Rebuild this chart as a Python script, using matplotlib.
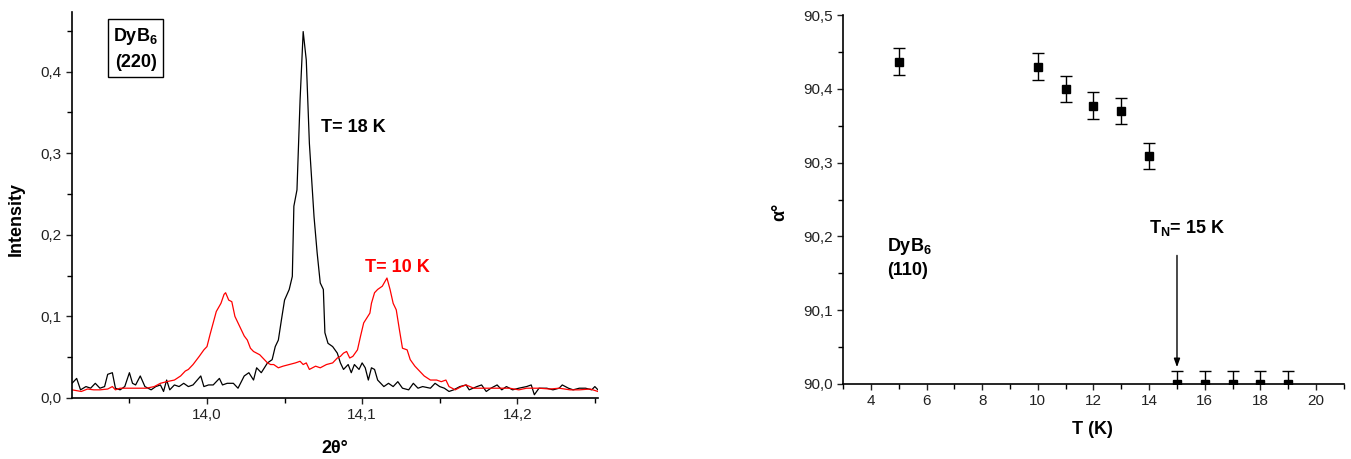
import matplotlib
matplotlib.use("Agg")
import matplotlib.pyplot as plt
from matplotlib.ticker import MultipleLocator, FuncFormatter

plt.rcParams['font.family'] = ['Liberation Sans', 'DejaVu Sans']
plt.rcParams['mathtext.fontset'] = 'custom'
plt.rcParams['mathtext.rm'] = 'Liberation Sans'
plt.rcParams['mathtext.bf'] = 'Liberation Sans:bold'

# ---- Left panel data: 2theta scans ----
tt_18K = [13.913, 13.916, 13.9185, 13.922, 13.925, 13.928, 13.931, 13.934, 13.936, 13.939,
          13.941, 13.944, 13.947, 13.950, 13.952, 13.954, 13.957, 13.960, 13.964, 13.967,
          13.970, 13.972, 13.974, 13.976, 13.979, 13.982, 13.985, 13.988, 13.991, 13.996,
          13.998, 14.001, 14.004, 14.008, 14.010, 14.013, 14.017, 14.020, 14.024, 14.027,
          14.030, 14.032, 14.035, 14.039, 14.042, 14.044, 14.046, 14.048, 14.050, 14.053,
          14.055, 14.056, 14.058, 14.060, 14.062, 14.064, 14.066, 14.069, 14.071, 14.073,
          14.075, 14.076, 14.078, 14.081, 14.084, 14.086, 14.088, 14.091, 14.093, 14.095,
          14.098, 14.100, 14.102, 14.104, 14.106, 14.108, 14.110, 14.114, 14.117, 14.120,
          14.123, 14.126, 14.130, 14.133, 14.136, 14.139, 14.144, 14.147, 14.150, 14.153,
          14.156, 14.159, 14.163, 14.167, 14.169, 14.174, 14.177, 14.180, 14.183, 14.187,
          14.190, 14.193, 14.197, 14.201, 14.206, 14.209, 14.211, 14.214, 14.219, 14.223,
          14.227, 14.229, 14.233, 14.236, 14.240, 14.244, 14.248, 14.250, 14.252]
int_18K = [0.018, 0.024, 0.010, 0.014, 0.012, 0.018, 0.012, 0.014, 0.029, 0.031,
           0.012, 0.010, 0.014, 0.031, 0.018, 0.016, 0.027, 0.014, 0.010, 0.014,
           0.016, 0.008, 0.022, 0.010, 0.016, 0.014, 0.018, 0.014, 0.016, 0.027,
           0.014, 0.016, 0.016, 0.024, 0.016, 0.018, 0.018, 0.012, 0.027, 0.031,
           0.022, 0.037, 0.031, 0.043, 0.047, 0.063, 0.071, 0.096, 0.120, 0.133,
           0.149, 0.235, 0.255, 0.365, 0.449, 0.414, 0.312, 0.222, 0.178, 0.141,
           0.133, 0.080, 0.067, 0.063, 0.055, 0.043, 0.035, 0.041, 0.031, 0.041,
           0.035, 0.043, 0.037, 0.022, 0.037, 0.035, 0.022, 0.014, 0.018, 0.014,
           0.020, 0.012, 0.010, 0.018, 0.012, 0.014, 0.012, 0.018, 0.014, 0.012,
           0.008, 0.010, 0.014, 0.016, 0.010, 0.014, 0.016, 0.008, 0.012, 0.016,
           0.010, 0.014, 0.010, 0.012, 0.014, 0.016, 0.004, 0.012, 0.012, 0.010,
           0.012, 0.016, 0.012, 0.010, 0.012, 0.012, 0.010, 0.014, 0.010]

tt_10K = [13.913, 13.919, 13.923, 13.927, 13.931, 13.936, 13.939, 13.941, 13.944, 13.949,
          13.953, 13.957, 13.961, 13.966, 13.970, 13.974, 13.979, 13.983, 13.986, 13.988,
          13.991, 13.995, 13.998, 14.000, 14.002, 14.004, 14.006, 14.009, 14.011, 14.012,
          14.014, 14.016, 14.018, 14.020, 14.024, 14.026, 14.028, 14.030, 14.034, 14.036,
          14.039, 14.041, 14.043, 14.046, 14.049, 14.053, 14.057, 14.060, 14.062, 14.064,
          14.066, 14.070, 14.073, 14.077, 14.081, 14.084, 14.086, 14.088, 14.090, 14.092,
          14.094, 14.097, 14.099, 14.101, 14.103, 14.105, 14.106, 14.108, 14.110, 14.113,
          14.116, 14.118, 14.120, 14.122, 14.124, 14.126, 14.129, 14.131, 14.134, 14.137,
          14.140, 14.144, 14.148, 14.151, 14.154, 14.156, 14.160, 14.164, 14.167, 14.172,
          14.178, 14.184, 14.187, 14.195, 14.201, 14.206, 14.210, 14.214, 14.221, 14.227,
          14.234, 14.240, 14.247, 14.252]
int_10K = [0.010, 0.008, 0.011, 0.010, 0.010, 0.011, 0.014, 0.010, 0.012, 0.012,
           0.012, 0.012, 0.012, 0.014, 0.018, 0.020, 0.022, 0.027, 0.033, 0.035,
           0.041, 0.051, 0.059, 0.063, 0.078, 0.092, 0.106, 0.116, 0.127, 0.129,
           0.120, 0.118, 0.100, 0.092, 0.076, 0.071, 0.061, 0.057, 0.053, 0.049,
           0.043, 0.041, 0.041, 0.037, 0.039, 0.041, 0.043, 0.045, 0.041, 0.043,
           0.035, 0.039, 0.037, 0.041, 0.043, 0.049, 0.051, 0.055, 0.057, 0.049,
           0.051, 0.059, 0.076, 0.092, 0.098, 0.104, 0.116, 0.129, 0.133, 0.137,
           0.147, 0.133, 0.116, 0.108, 0.084, 0.061, 0.059, 0.047, 0.039, 0.033,
           0.027, 0.022, 0.022, 0.020, 0.022, 0.014, 0.010, 0.014, 0.016, 0.012,
           0.012, 0.012, 0.012, 0.012, 0.010, 0.012, 0.012, 0.012, 0.011, 0.012,
           0.010, 0.010, 0.011, 0.008]

# ---- Right panel data: rhombohedral angle vs T ----
T_K = [5, 10, 11, 12, 13, 14, 15, 16, 17, 18, 19]
alpha_deg = [90.437, 90.430, 90.400, 90.377, 90.370, 90.309, 90.0, 90.0, 90.0, 90.0, 90.0]
alpha_err = [0.018, 0.018, 0.018, 0.018, 0.018, 0.018, 0.018, 0.018, 0.018, 0.018, 0.018]

comma = FuncFormatter(lambda v, p: f"{v:.1f}".replace('.', ','))

fig = plt.figure(figsize=(13.51, 4.59), dpi=100)
ax1 = fig.add_axes([0.0533, 0.1329, 0.3893, 0.8410])
ax2 = fig.add_axes([0.6240, 0.1634, 0.3708, 0.8039])

for ax in (ax1, ax2):
    for s in ('top', 'right'):
        ax.spines[s].set_visible(False)
    for s in ('left', 'bottom'):
        ax.spines[s].set_linewidth(1.2)
    ax.tick_params(which='major', direction='out', length=4, width=1.0, labelsize=11, colors='#222222')
    ax.tick_params(which='minor', direction='out', length=3.5, width=1.0)
    ax.xaxis.set_major_formatter(comma)

# left panel
ax1.plot(tt_18K, int_18K, color='black', lw=0.9)
ax1.plot(tt_10K, int_10K, color='red', lw=0.9)
ax1.set_xlim(13.913, 14.252)
ax1.set_ylim(0.0, 0.473)
ax1.xaxis.set_major_locator(MultipleLocator(0.1))
ax1.xaxis.set_minor_locator(MultipleLocator(0.05))
ax1.yaxis.set_major_locator(MultipleLocator(0.1))
ax1.yaxis.set_minor_locator(MultipleLocator(0.05))
ax1.yaxis.set_major_formatter(comma)
ax1.set_ylabel('Intensity', fontsize=13, fontweight='bold')
ax1.set_xlabel('2θ°', fontsize=13, fontweight='bold')
ax1.yaxis.set_label_coords(-0.089, 0.464)
ax1.xaxis.set_label_coords(0.5, -0.109)
ax1.text(13.954, 0.428, 'DyB$_\\mathbf{6}$\n(220)', fontsize=13, fontweight='bold',
         ha='center', va='center', multialignment='center', linespacing=1.55,
         bbox=dict(boxstyle='square,pad=0.3', fc='white', ec='black', lw=1.0))
ax1.text(14.0735, 0.332, 'T= 18 K', fontsize=13, fontweight='bold', color='black',
         ha='left', va='center')
ax1.text(14.102, 0.1605, 'T= 10 K', fontsize=13, fontweight='bold', color='red',
         ha='left', va='center')

# right panel
ax2.errorbar(T_K, alpha_deg, yerr=alpha_err, fmt='s', color='black', ms=6,
             ecolor='black', elinewidth=1.0, capsize=4, capthick=1.0, zorder=3)
ax2.set_xlim(3, 21)
ax2.set_ylim(90.0, 90.5)
ax2.xaxis.set_major_locator(MultipleLocator(2))
ax2.xaxis.set_minor_locator(MultipleLocator(1))
ax2.yaxis.set_major_locator(MultipleLocator(0.1))
ax2.yaxis.set_minor_locator(MultipleLocator(0.05))
ax2.xaxis.set_major_formatter(FuncFormatter(lambda v, p: f"{v:.0f}"))
ax2.yaxis.set_major_formatter(comma)
ax2.set_ylabel('α°', fontsize=13, fontweight='bold')
ax2.set_xlabel('T (K)', fontsize=13, fontweight='bold')
ax2.yaxis.set_label_coords(-0.110, 0.466)
ax2.xaxis.set_label_coords(0.497, -0.100)
ax2.text(4.58, 90.186, 'DyB$_\\mathbf{6}$', fontsize=13, fontweight='bold', ha='left', va='center')
ax2.text(4.58, 90.154, '(110)', fontsize=13, fontweight='bold', ha='left', va='center')
ax2.text(14.0, 90.211, 'T$_\\mathbf{N}$= 15 K', fontsize=13, fontweight='bold', ha='left', va='center')
ax2.annotate('', xy=(15, 90.019), xytext=(15, 90.178),
             arrowprops=dict(arrowstyle='-|>,head_length=0.5,head_width=0.18', color='black', lw=1.0))

fig.savefig('out.png', dpi=100)
